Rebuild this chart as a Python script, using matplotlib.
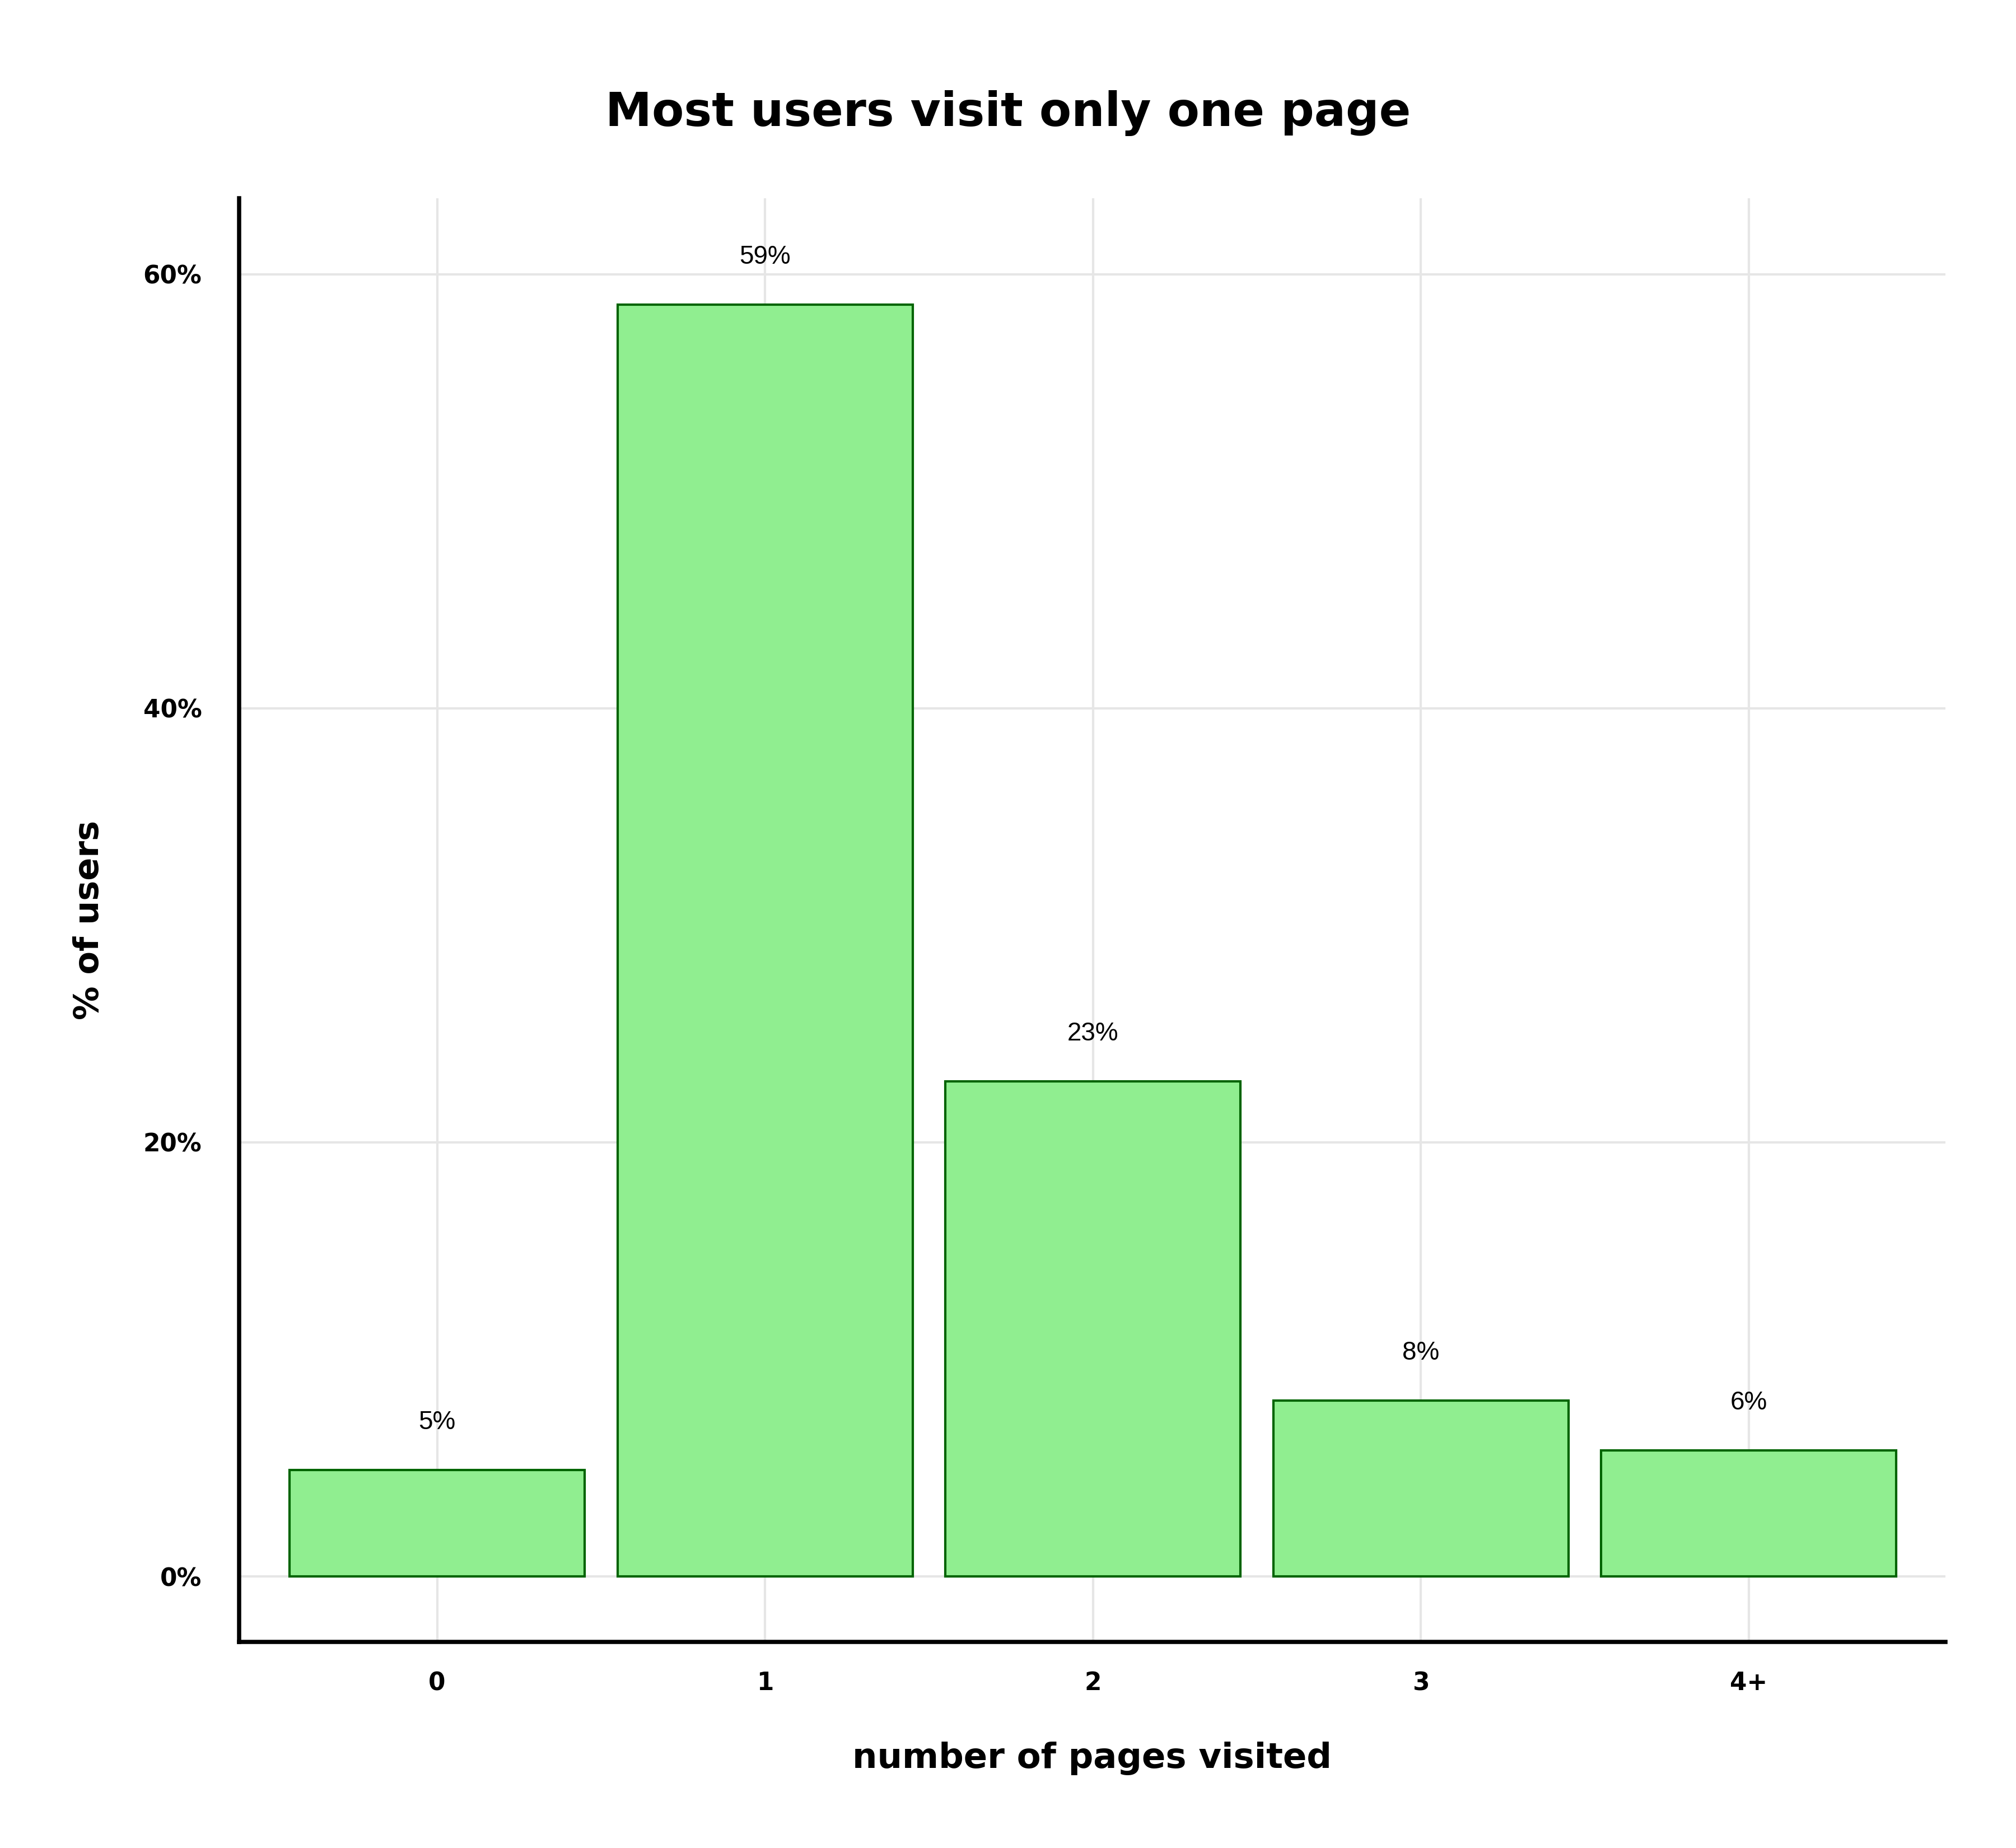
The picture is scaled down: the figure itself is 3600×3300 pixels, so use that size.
"""
Bar chart of how many pages users visit, as a share of all users.
"""

import matplotlib.pyplot as plt
import numpy as np
from matplotlib.ticker import FuncFormatter


PAGE_BINS = ["0", "1", "2", "3", "4+"]
SHARE_OF_USERS = [4.9, 58.6, 22.8, 8.1, 5.8]
Y_TICKS = [0, 20, 40, 60]

TITLE = "Most users visit only one page"
X_LABEL = "number of pages visited"
Y_LABEL = "% of users"

BAR_FILL = "#90ee90"
BAR_EDGE = "#006400"
GRID_COLOR = "#e6e6e6"
BOLD_FONT = "DejaVu Sans"
LABEL_FONT = "Liberation Sans"


def plot_page_visits():
    """
    Draw the page visit bar chart and save it as out.png.
    """
    x_values = np.arange(len(PAGE_BINS))

    figure = plt.figure(figsize=(12, 11), dpi=300)
    axis = figure.add_axes([0.1186, 0.1115, 0.8464, 0.7812])

    bars = axis.bar(
        x_values,
        SHARE_OF_USERS,
        width=0.9,
        color=BAR_FILL,
        edgecolor=BAR_EDGE,
        linewidth=1.0,
        zorder=2,
    )

    for bar, value in zip(bars, SHARE_OF_USERS):
        axis.text(
            bar.get_x() + bar.get_width() / 2,
            value + 2.2,
            f"{value:.0f}%",
            ha="center",
            va="center",
            fontsize=11,
            family=LABEL_FONT,
        )

    axis.set_xlim(-0.604, 4.6)
    axis.set_ylim(-3.02, 63.5)

    axis.set_xticks(x_values)
    axis.set_xticklabels(PAGE_BINS)
    axis.set_yticks(Y_TICKS)
    axis.yaxis.set_major_formatter(FuncFormatter(lambda v, _: f"{v:.0f}%"))

    for label in axis.get_xticklabels() + axis.get_yticklabels():
        label.set_fontfamily(BOLD_FONT)
        label.set_fontweight("bold")
        label.set_fontsize(10.5)

    axis.tick_params(axis="x", length=0, pad=12.5)
    axis.tick_params(axis="y", length=0, pad=16)

    axis.set_axisbelow(True)
    axis.grid(True, color=GRID_COLOR, linewidth=1.0, zorder=0)

    axis.spines["top"].set_visible(False)
    axis.spines["right"].set_visible(False)
    axis.spines["left"].set_linewidth(1.8)
    axis.spines["bottom"].set_linewidth(1.8)

    axis.set_xlabel(X_LABEL, fontsize=15, fontweight="bold", family=BOLD_FONT, labelpad=20)
    axis.set_ylabel(Y_LABEL, fontsize=14.5, fontweight="bold", family=BOLD_FONT, labelpad=16)

    figure.text(
        0.5,
        1 - 202 / 3300,
        TITLE,
        ha="center",
        va="center",
        fontsize=20,
        fontweight="bold",
        family=BOLD_FONT,
    )

    figure.savefig("out.png", dpi=300, facecolor="white")
    plt.close(figure)


if __name__ == "__main__":
    plot_page_visits()
